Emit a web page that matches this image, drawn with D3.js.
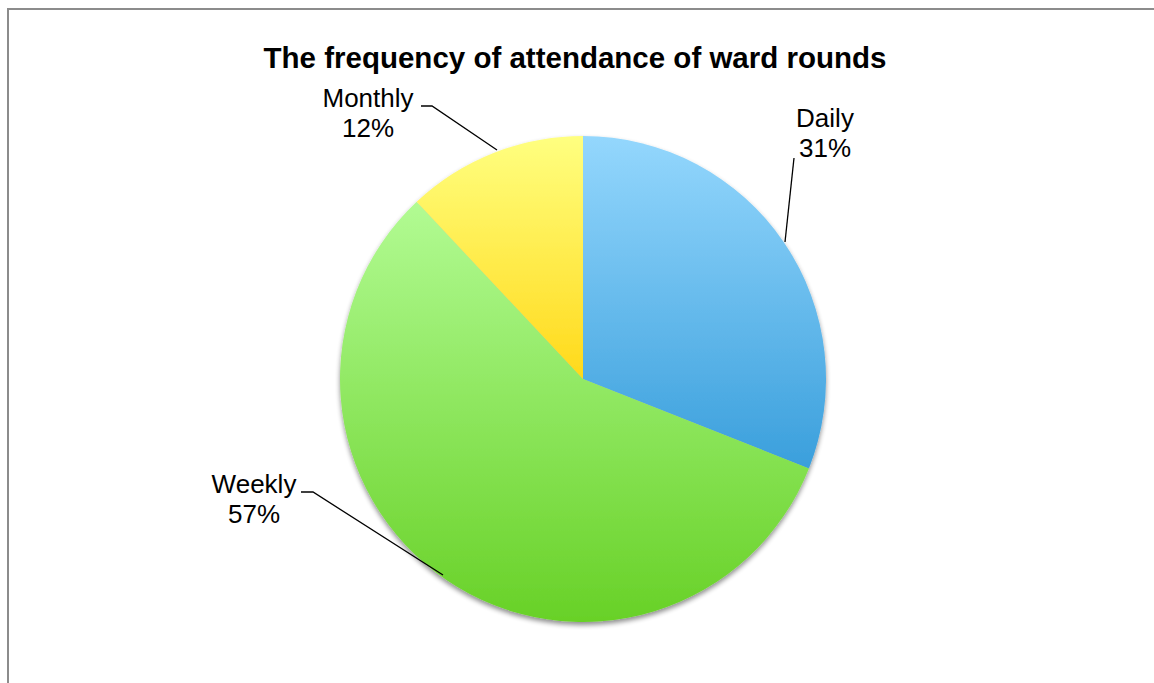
<!DOCTYPE html>
<html>
<head>
<meta charset="utf-8">
<script src="https://cdn.jsdelivr.net/npm/d3@7"></script>
<style>
  html, body { margin: 0; padding: 0; background: #fff; }
  svg { display: block; font-family: Arial, "Liberation Sans", sans-serif; }
</style>
</head>
<body>
<svg id="chart" width="1154" height="683"></svg>
<script>
const title = "The frequency of attendance of ward rounds";
const categories = ["Daily", "Weekly", "Monthly"];
const values = [31, 57, 12];
const labels = ["31%", "57%", "12%"];
const colorsTop = ["#94d7fd", "#b2fb93", "#ffff80"];
const colorsBottom = ["#3a9fdc", "#68d127", "#ffd91a"];

const svg = d3.select("#chart");
const W = 1154, H = 683;

// outer border (extends beyond right/bottom of view)
svg.append("rect")
  .attr("x", 8).attr("y", 9)
  .attr("width", W + 20).attr("height", H + 20)
  .attr("fill", "#fff")
  .attr("stroke", "#8c8c8c").attr("stroke-width", 2);

const defs = svg.append("defs");
categories.forEach((c, i) => {
  const g = defs.append("linearGradient")
    .attr("id", "grad" + i)
    .attr("x1", 0).attr("y1", 0).attr("x2", 0).attr("y2", 1);
  g.append("stop").attr("offset", "0%").attr("stop-color", colorsTop[i]);
  g.append("stop").attr("offset", "100%").attr("stop-color", colorsBottom[i]);
});
const f = defs.append("filter").attr("id", "shadow")
  .attr("x", "-10%").attr("y", "-10%").attr("width", "120%").attr("height", "120%");
f.append("feGaussianBlur").attr("in", "SourceAlpha").attr("stdDeviation", 2.5).attr("result", "b");
f.append("feOffset").attr("in", "b").attr("dx", 0).attr("dy", 3).attr("result", "o");
f.append("feComponentTransfer").attr("in", "o").attr("result", "s")
  .append("feFuncA").attr("type", "linear").attr("slope", 0.45);
const m = f.append("feMerge");
m.append("feMergeNode").attr("in", "s");
m.append("feMergeNode").attr("in", "SourceGraphic");

svg.append("text")
  .attr("x", 575).attr("y", 68)
  .attr("text-anchor", "middle")
  .attr("font-size", 29.5).attr("font-weight", "bold")
  .attr("fill", "#000")
  .text(title);

const cx = 583, cy = 379, r = 243;
const pie = d3.pie().sort(null).value(d => d)(values);
const arc = d3.arc().innerRadius(0).outerRadius(r);

const g = svg.append("g").attr("transform", `translate(${cx},${cy})`);
g.append("g").attr("filter", "url(#shadow)")
  .selectAll("path").data(pie).enter().append("path")
  .attr("d", arc)
  .attr("fill", (d, i) => `url(#grad${i})`);

// leader lines & labels
const labelSpec = [
  { tx: 825, ty: 127, line: [[794, 158], [785, 242]] },
  { tx: 254, ty: 493, line: [[301, 492], [313, 492], [443, 575]] },
  { tx: 368, ty: 107, line: [[421, 106], [432, 106], [497, 150]] }
];
const lineGen = d3.line();
labelSpec.forEach((s, i) => {
  svg.append("path")
    .attr("d", lineGen(s.line))
    .attr("fill", "none").attr("stroke", "#000").attr("stroke-width", 1.3);
  const t = svg.append("text")
    .attr("text-anchor", "middle")
    .attr("font-size", 26).attr("fill", "#000");
  t.append("tspan").attr("x", s.tx).attr("y", s.ty).text(categories[i]);
  t.append("tspan").attr("x", s.tx).attr("y", s.ty + 30).text(labels[i]);
});
</script>
</body>
</html>
